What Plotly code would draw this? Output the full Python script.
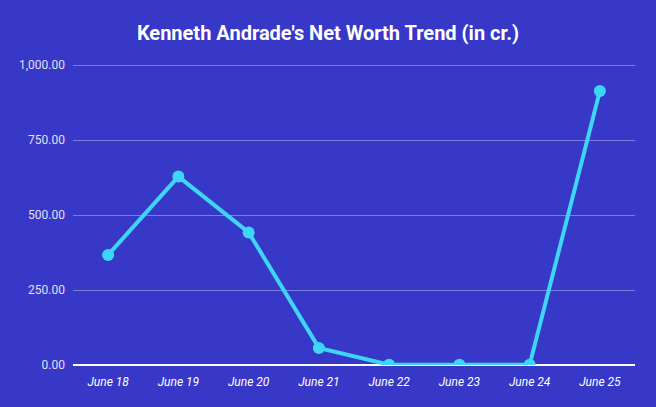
import plotly.graph_objects as go

categories = ["June 18", "June 19", "June 20", "June 21", "June 22", "June 23", "June 24", "June 25"]
net_worth = [367, 628, 442, 57, 1, 1, 1, 913]
y_ticks = [0, 250, 500, 750, 1000]

bg = "#3737c8"
line_color = "#3dd6f7"

fig = go.Figure()
fig.add_trace(go.Scatter(
    x=categories, y=net_worth, mode="lines+markers",
    line=dict(color=line_color, width=4),
    marker=dict(color=line_color, size=12),
    cliponaxis=True,
    hoverinfo="x+y",
))

fig.update_layout(
    width=656, height=407,
    paper_bgcolor=bg, plot_bgcolor=bg,
    margin=dict(l=73, r=21, t=62, b=42),
    font=dict(family="Roboto", color="#e8e8f8", size=12),
    title=dict(text="<b>Kenneth Andrade's Net Worth Trend (in cr.)</b>",
               x=0.5, xanchor="center", y=1 - 33 / 407, yanchor="middle",
               font=dict(family="Roboto", size=20, color="white")),
    showlegend=False,
    xaxis=dict(type="category", range=[-0.5, 7.5], showgrid=False, zeroline=False,
               showline=False, ticks="", tickfont=dict(family="Roboto", size=12, color="white", style="italic"),
               ticklabelstandoff=8),
    yaxis=dict(range=[0, 1010], tickvals=y_ticks, tickformat=",.2f",
               gridcolor="rgba(255,255,255,0.35)", gridwidth=1,
               zeroline=True, zerolinecolor="white", zerolinewidth=2,
               showline=False, ticks="", ticklabelstandoff=7,
               tickfont=dict(family="Roboto", size=12, color="#e0e0f0")),
)

fig.write_html("out.html", config={"displayModeBar": False},
               post_script="document.body.style.margin='0';")
